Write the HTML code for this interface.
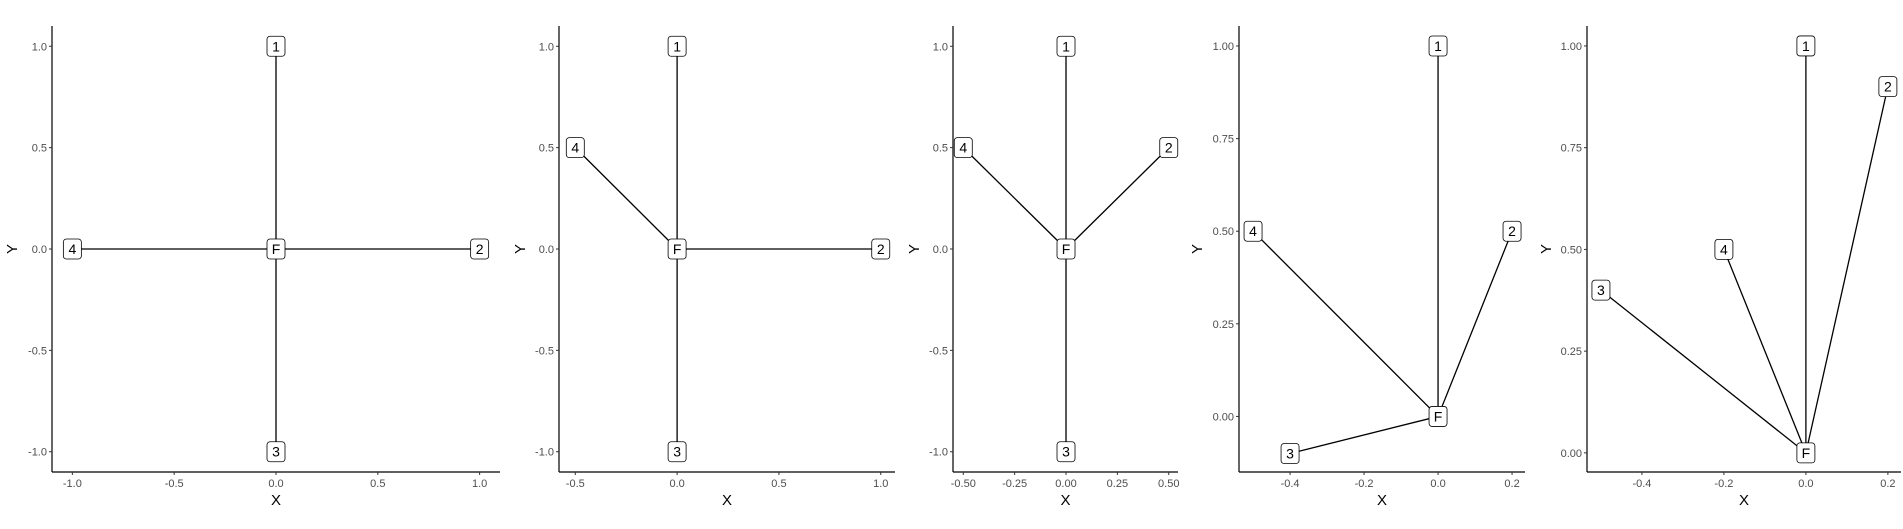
<!DOCTYPE html>
<html><head><meta charset="utf-8"><style>
body{margin:0;background:#fff;width:1903px;height:524px;overflow:hidden;font-family:"Liberation Sans",sans-serif}
</style></head><body>
<svg id="c" width="1903" height="524" font-family="Liberation Sans, sans-serif"></svg>
<script>
// Data per panel: node labels, x values, y values
const nodeLabels = ["F","1","2","3","4"];
const p1X = [0, 0, 1, 0, -1];       const p1Y = [0, 1, 0, -1, 0];
const p2X = [0, 0, 1, 0, -0.5];     const p2Y = [0, 1, 0, -1, 0.5];
const p3X = [0, 0, 0.5, 0, -0.5];   const p3Y = [0, 1, 0.5, -1, 0.5];
const p4X = [0, 0, 0.2, -0.4, -0.5];const p4Y = [0, 1, 0.5, -0.1, 0.5];
const p5X = [0, 0, 0.2, -0.5, -0.2];const p5Y = [0, 1, 0.9, 0.4, 0.5];
const p1XTicks = [-1, -0.5, 0, 0.5, 1]; const p1YTicks = [-1, -0.5, 0, 0.5, 1];
const p2XTicks = [-0.5, 0, 0.5, 1];
const p3XTicks = [-0.5, -0.25, 0, 0.25, 0.5];
const p4XTicks = [-0.4, -0.2, 0, 0.2]; const p4YTicks = [0, 0.25, 0.5, 0.75, 1];
const panels = [
 {xs:p1X, ys:p1Y, xt:p1XTicks, yt:p1YTicks, xd:[-1.1,1.1], yd:[-1.1,1.1], l:52, r:500, tx:12, xf:1, yf:1},
 {xs:p2X, ys:p2Y, xt:p2XTicks, yt:p1YTicks, xd:[-0.58,1.07], yd:[-1.1,1.1], l:559, r:895, tx:520, xf:1, yf:1},
 {xs:p3X, ys:p3Y, xt:p3XTicks, yt:p1YTicks, xd:[-0.55,0.545], yd:[-1.1,1.1], l:953, r:1178, tx:914, xf:2, yf:1},
 {xs:p4X, ys:p4Y, xt:p4XTicks, yt:p4YTicks, xd:[-0.538,0.235], yd:[-0.15,1.054], l:1239, r:1525, tx:1197, xf:1, yf:2},
 {xs:p5X, ys:p5Y, xt:p4XTicks, yt:p4YTicks, xd:[-0.534,0.232], yd:[-0.047,1.049], l:1587, r:1901, tx:1546, xf:1, yf:2}
];
const NS="http://www.w3.org/2000/svg";
const svg=document.getElementById('c');
const TOP=26,BOT=472;
function mk(t,a,p){const e=document.createElementNS(NS,t);for(const k in a)e.setAttribute(k,a[k]);(p||svg).appendChild(e);return e;}
panels.forEach((P,pi)=>{
 const g=mk('g',{});
 
 
 const sx=v=>P.l+(v-P.xd[0])/(P.xd[1]-P.xd[0])*(P.r-P.l);
 const sy=v=>BOT-(v-P.yd[0])/(P.yd[1]-P.yd[0])*(BOT-TOP);
 const ax=mk('line',{x1:P.l,y1:BOT,x2:P.r,y2:BOT,stroke:'#000','stroke-width':1.2},g);
 
 const ay=mk('line',{x1:P.l,y1:TOP,x2:P.l,y2:BOT,stroke:'#000','stroke-width':1.2},g);
 
 P.xt.filter(v=>v>=P.xd[0]&&v<=P.xd[1]).forEach(v=>{const x=sx(v);
  mk('line',{x1:x,y1:BOT,x2:x,y2:BOT+3,stroke:'#333'},g);
  const t=mk('text',{x:x,y:487,'font-size':11,fill:'#4d4d4d','text-anchor':'middle'},g);
  t.textContent=v.toFixed(P.xf);
  });
 P.yt.filter(v=>v>=P.yd[0]&&v<=P.yd[1]).forEach(v=>{const y=sy(v);
  mk('line',{x1:P.l-3,y1:y,x2:P.l,y2:y,stroke:'#333'},g);
  const t=mk('text',{x:P.l-5,y:y+4,'font-size':11,fill:'#4d4d4d','text-anchor':'end'},g);
  t.textContent=v.toFixed(P.yf);
  });
 const xt=mk('text',{x:(P.l+P.r)/2,y:505,'font-size':15,'text-anchor':'middle'},g);xt.textContent='X';
 
 const yt=mk('text',{x:P.tx,y:(TOP+BOT)/2,'font-size':15,'text-anchor':'middle',transform:`rotate(-90 ${P.tx} ${(TOP+BOT)/2})`,dy:5},g);yt.textContent='Y';
 
 for(let i=1;i<P.xs.length;i++){
  const e=mk('line',{x1:sx(P.xs[0]),y1:sy(P.ys[0]),x2:sx(P.xs[i]),y2:sy(P.ys[i]),stroke:'#000','stroke-width':1.3},g);
  
 }
 for(let i=0;i<P.xs.length;i++){
  const x=sx(P.xs[i]),y=sy(P.ys[i]);
  const ng=mk('g',{},g);
  
  mk('rect',{x:x-9,y:y-10,width:18,height:20,rx:3,fill:'#fff',stroke:'#000','stroke-width':0.8},ng);
  const t=mk('text',{x:x,y:y+5,'font-size':14,'text-anchor':'middle'},ng);t.textContent=nodeLabels[i];
 }
});
</script>
</body></html>
